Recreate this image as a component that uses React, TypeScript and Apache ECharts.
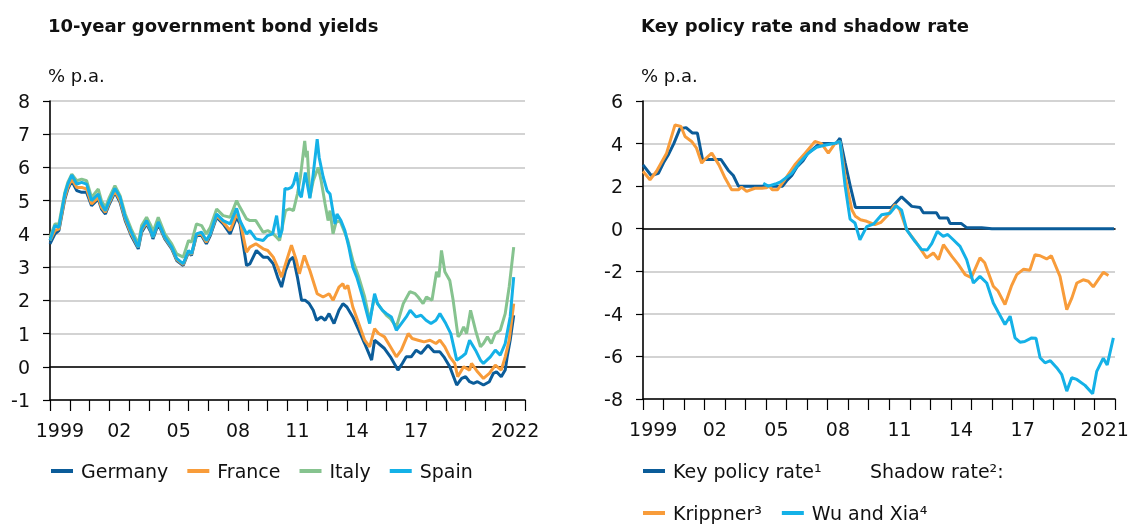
import React, { useEffect, useRef } from "react";
import * as echarts from "echarts";

const FONT = "DejaVu Sans";
const DARK_BLUE = "#0b5c99";
const ORANGE = "#f89c3a";
const GREEN = "#86c38f";
const LIGHT_BLUE = "#14b1e7";

const leftYears = ["1999","2000","2001","2002","2003","2004","2005","2006","2007","2008","2009","2010","2011","2012","2013","2014","2015","2016","2017","2018","2019","2020","2021","2022"];
const leftTickYears = ["1999","2002","2005","2008","2011","2014","2017","2022"];
const leftTickLabels = ["1999","02","05","08","11","14","17","2022"];

const rightYears = ["1999","2000","2001","2002","2003","2004","2005","2006","2007","2008","2009","2010","2011","2012","2013","2014","2015","2016","2017","2018","2019","2020","2021"];
const rightTickYears = ["1999","2002","2005","2008","2011","2014","2017","2021"];
const rightTickLabels = ["1999","02","05","08","11","14","17","2021"];

const germany = [[1999.0,3.7],[1999.25,4.0],[1999.45,4.1],[1999.75,5.05],[1999.9,5.35],[2000.1,5.6],[2000.35,5.3],[2000.6,5.25],[2000.85,5.25],[2001.1,4.85],[2001.44,5.05],[2001.6,4.75],[2001.8,4.6],[2002.0,4.9],[2002.28,5.25],[2002.54,4.95],[2002.8,4.4],[2003.1,3.95],[2003.46,3.55],[2003.63,4.05],[2003.88,4.3],[2004.1,4.05],[2004.2,3.85],[2004.47,4.3],[2004.8,3.85],[2005.15,3.55],[2005.4,3.2],[2005.73,3.05],[2006.0,3.45],[2006.15,3.35],[2006.4,3.95],[2006.66,3.95],[2006.9,3.7],[2007.1,3.95],[2007.42,4.5],[2007.75,4.3],[2008.1,4.0],[2008.43,4.5],[2008.6,4.3],[2008.93,3.05],[2009.1,3.1],[2009.43,3.5],[2009.77,3.3],[2010.0,3.3],[2010.28,3.1],[2010.5,2.7],[2010.7,2.4],[2010.9,2.9],[2011.1,3.2],[2011.29,3.3],[2011.5,2.7],[2011.71,2.0],[2011.9,2.0],[2012.1,1.9],[2012.3,1.7],[2012.47,1.4],[2012.7,1.5],[2012.9,1.4],[2013.1,1.6],[2013.35,1.3],[2013.6,1.7],[2013.8,1.9],[2014.0,1.8],[2014.3,1.5],[2014.6,1.1],[2014.9,0.7],[2015.25,0.2],[2015.4,0.8],[2015.6,0.7],[2015.9,0.55],[2016.2,0.3],[2016.58,-0.1],[2016.8,0.1],[2017.0,0.3],[2017.25,0.3],[2017.5,0.5],[2017.75,0.4],[2018.1,0.65],[2018.4,0.45],[2018.7,0.45],[2018.9,0.3],[2019.2,0.0],[2019.55,-0.55],[2019.8,-0.35],[2020.0,-0.3],[2020.2,-0.45],[2020.4,-0.5],[2020.6,-0.45],[2020.9,-0.55],[2021.2,-0.45],[2021.4,-0.2],[2021.56,-0.15],[2021.8,-0.3],[2022.0,-0.1],[2022.1,0.3],[2022.25,0.8],[2022.43,1.55]];

const france = [[1999.0,3.8],[1999.25,4.1],[1999.45,4.15],[1999.75,5.1],[1999.9,5.4],[2000.1,5.65],[2000.35,5.4],[2000.6,5.4],[2000.85,5.35],[2001.1,4.9],[2001.44,5.1],[2001.6,4.8],[2001.8,4.65],[2002.0,4.95],[2002.28,5.3],[2002.54,5.0],[2002.8,4.45],[2003.1,4.0],[2003.46,3.6],[2003.63,4.1],[2003.88,4.35],[2004.1,4.1],[2004.2,3.9],[2004.47,4.35],[2004.8,3.88],[2005.15,3.58],[2005.4,3.23],[2005.73,3.08],[2006.0,3.48],[2006.15,3.38],[2006.4,3.98],[2006.66,4.0],[2006.9,3.75],[2007.1,4.0],[2007.42,4.55],[2007.75,4.35],[2008.1,4.1],[2008.43,4.6],[2008.6,4.4],[2008.93,3.45],[2009.1,3.6],[2009.4,3.7],[2009.77,3.55],[2010.0,3.5],[2010.28,3.3],[2010.5,3.0],[2010.7,2.7],[2010.85,3.0],[2011.2,3.66],[2011.45,3.2],[2011.6,2.8],[2011.85,3.35],[2012.0,3.1],[2012.13,2.9],[2012.5,2.2],[2012.8,2.1],[2013.1,2.2],[2013.3,2.0],[2013.6,2.4],[2013.8,2.5],[2013.9,2.35],[2014.05,2.45],[2014.3,1.8],[2014.6,1.3],[2014.9,0.8],[2015.15,0.6],[2015.4,1.15],[2015.6,1.0],[2015.9,0.9],[2016.2,0.6],[2016.5,0.3],[2016.75,0.5],[2017.1,1.0],[2017.3,0.85],[2017.6,0.8],[2017.9,0.75],[2018.2,0.8],[2018.5,0.7],[2018.7,0.8],[2018.95,0.6],[2019.2,0.3],[2019.45,0.1],[2019.6,-0.3],[2019.9,0.0],[2020.2,-0.1],[2020.3,0.1],[2020.6,-0.15],[2020.9,-0.35],[2021.2,-0.2],[2021.5,0.05],[2021.8,-0.1],[2022.0,0.3],[2022.2,0.8],[2022.43,1.9]];

const italy = [[1999.0,3.9],[1999.25,4.3],[1999.45,4.3],[1999.75,5.25],[1999.9,5.55],[2000.1,5.8],[2000.35,5.6],[2000.6,5.65],[2000.85,5.6],[2001.1,5.1],[2001.44,5.35],[2001.6,5.0],[2001.8,4.8],[2002.0,5.1],[2002.28,5.45],[2002.54,5.15],[2002.8,4.6],[2003.1,4.15],[2003.46,3.7],[2003.63,4.25],[2003.88,4.5],[2004.1,4.25],[2004.2,4.05],[2004.47,4.5],[2004.8,4.0],[2005.15,3.7],[2005.4,3.4],[2005.73,3.3],[2006.0,3.8],[2006.15,3.75],[2006.4,4.3],[2006.66,4.25],[2006.9,4.0],[2007.1,4.2],[2007.42,4.75],[2007.75,4.55],[2008.1,4.5],[2008.43,5.0],[2008.6,4.8],[2008.93,4.45],[2009.1,4.4],[2009.4,4.4],[2009.77,4.05],[2010.0,4.1],[2010.28,4.0],[2010.45,3.9],[2010.6,3.8],[2010.9,4.7],[2011.1,4.75],[2011.3,4.7],[2011.5,5.2],[2011.65,5.7],[2011.87,6.8],[2011.95,6.3],[2012.0,6.5],[2012.13,5.1],[2012.3,5.6],[2012.55,6.0],[2012.7,5.6],[2012.9,4.9],[2013.05,4.4],[2013.15,4.7],[2013.3,4.0],[2013.45,4.35],[2013.65,4.4],[2013.85,4.1],[2014.05,3.8],[2014.3,3.2],[2014.6,2.7],[2014.9,2.1],[2015.15,1.4],[2015.4,2.1],[2015.55,1.9],[2015.8,1.7],[2016.0,1.55],[2016.2,1.45],[2016.5,1.2],[2016.85,1.9],[2017.18,2.26],[2017.45,2.2],[2017.6,2.1],[2017.85,1.9],[2018.02,2.1],[2018.3,2.0],[2018.53,2.86],[2018.65,2.7],[2018.78,3.5],[2018.95,2.86],[2019.2,2.6],[2019.37,2.0],[2019.62,0.9],[2019.75,1.0],[2019.9,1.2],[2020.05,1.0],[2020.25,1.7],[2020.5,1.1],[2020.75,0.6],[2020.9,0.7],[2021.1,0.9],[2021.3,0.7],[2021.5,1.0],[2021.75,1.1],[2022.0,1.6],[2022.2,2.4],[2022.43,3.6]];

const spain = [[1999.0,3.8],[1999.25,4.25],[1999.45,4.2],[1999.75,5.2],[1999.9,5.5],[2000.1,5.77],[2000.35,5.5],[2000.6,5.55],[2000.85,5.5],[2001.1,5.0],[2001.44,5.2],[2001.6,4.9],[2001.8,4.7],[2002.0,5.0],[2002.28,5.37],[2002.54,5.1],[2002.8,4.5],[2003.1,4.06],[2003.46,3.6],[2003.63,4.15],[2003.88,4.4],[2004.1,4.1],[2004.2,3.9],[2004.47,4.36],[2004.8,3.9],[2005.15,3.6],[2005.4,3.26],[2005.73,3.1],[2006.0,3.5],[2006.15,3.4],[2006.4,4.0],[2006.66,4.05],[2006.9,3.8],[2007.1,4.0],[2007.42,4.6],[2007.75,4.4],[2008.1,4.3],[2008.43,4.77],[2008.6,4.4],[2008.93,4.0],[2009.1,4.1],[2009.4,3.85],[2009.77,3.8],[2010.0,3.95],[2010.25,4.0],[2010.45,4.55],[2010.6,3.9],[2010.72,4.1],[2010.87,5.37],[2011.0,5.35],[2011.2,5.4],[2011.3,5.5],[2011.46,5.85],[2011.6,5.2],[2011.7,5.1],[2011.9,5.85],[2012.0,5.5],[2012.13,5.07],[2012.3,5.8],[2012.5,6.85],[2012.6,6.3],[2012.8,5.72],[2013.0,5.3],[2013.15,5.2],[2013.4,4.3],[2013.5,4.6],[2013.7,4.4],[2013.9,4.1],[2014.1,3.6],[2014.3,3.0],[2014.5,2.7],[2014.8,2.1],[2015.15,1.3],[2015.4,2.2],[2015.55,1.9],[2015.8,1.7],[2016.0,1.6],[2016.25,1.5],[2016.5,1.1],[2016.75,1.3],[2017.0,1.5],[2017.2,1.7],[2017.5,1.5],[2017.75,1.55],[2018.0,1.4],[2018.25,1.3],[2018.5,1.4],[2018.7,1.6],[2019.0,1.3],[2019.25,1.0],[2019.55,0.2],[2019.8,0.3],[2020.0,0.4],[2020.2,0.8],[2020.5,0.5],[2020.75,0.2],[2020.9,0.1],[2021.25,0.3],[2021.5,0.5],[2021.75,0.35],[2022.0,0.7],[2022.25,1.5],[2022.43,2.7]];

const keyPolicyRate = [[1999.0,3.0],[1999.4,2.5],[1999.75,2.6],[2000.0,3.1],[2000.25,3.5],[2000.5,4.0],[2000.8,4.7],[2001.1,4.75],[2001.4,4.5],[2001.65,4.5],[2001.9,3.25],[2002.8,3.25],[2003.15,2.75],[2003.4,2.5],[2003.65,2.0],[2005.8,2.0],[2006.0,2.25],[2006.25,2.5],[2006.5,2.9],[2006.8,3.2],[2007.0,3.5],[2007.3,3.75],[2007.6,4.0],[2008.4,4.0],[2008.6,4.25],[2008.85,3.1],[2009.1,2.0],[2009.35,1.0],[2011.1,1.0],[2011.6,1.5],[2012.1,1.05],[2012.5,1.0],[2012.66,0.75],[2013.3,0.75],[2013.45,0.5],[2013.85,0.5],[2013.96,0.25],[2014.5,0.25],[2014.77,0.05],[2015.5,0.05],[2016.0,0.0],[2021.95,0.0]];

const krippner = [[1999.0,2.7],[1999.34,2.3],[1999.66,2.7],[2000.15,3.55],[2000.56,4.88],[2000.85,4.8],[2001.05,4.33],[2001.37,4.1],[2001.6,3.8],[2001.86,3.08],[2002.0,3.25],[2002.35,3.55],[2002.7,3.0],[2003.0,2.38],[2003.32,1.83],[2003.65,1.83],[2003.8,1.95],[2004.05,1.75],[2004.45,1.9],[2004.8,1.9],[2005.0,1.92],[2005.15,2.0],[2005.3,1.83],[2005.55,1.83],[2005.9,2.3],[2006.4,3.0],[2006.9,3.55],[2007.38,4.1],[2007.7,4.0],[2008.03,3.55],[2008.35,4.0],[2008.6,4.1],[2008.85,2.45],[2009.17,0.9],[2009.35,0.58],[2009.6,0.42],[2009.9,0.35],[2010.3,0.19],[2010.6,0.3],[2010.95,0.66],[2011.28,1.13],[2011.5,0.9],[2011.85,-0.05],[2012.33,-0.67],[2012.82,-1.37],[2013.15,-1.14],[2013.4,-1.45],[2013.64,-0.75],[2014.05,-1.3],[2014.37,-1.69],[2014.7,-2.16],[2015.0,-2.3],[2015.42,-1.37],[2015.65,-1.6],[2016.07,-2.7],[2016.3,-2.93],[2016.64,-3.56],[2016.95,-2.7],[2017.21,-2.16],[2017.55,-1.9],[2017.85,-1.95],[2018.1,-1.22],[2018.35,-1.27],[2018.67,-1.42],[2018.9,-1.27],[2019.32,-2.24],[2019.65,-3.8],[2019.9,-3.25],[2020.14,-2.55],[2020.45,-2.4],[2020.7,-2.47],[2020.94,-2.73],[2021.43,-2.05],[2021.68,-2.2]];

const wuXia = [[2004.86,2.14],[2005.1,2.0],[2005.45,2.1],[2005.7,2.2],[2006.25,2.6],[2006.67,3.15],[2007.06,3.55],[2007.46,3.83],[2007.85,3.92],[2008.3,4.0],[2008.6,4.1],[2008.85,2.0],[2009.09,0.45],[2009.33,0.27],[2009.57,-0.52],[2009.9,0.1],[2010.25,0.23],[2010.63,0.66],[2011.04,0.73],[2011.33,1.08],[2011.6,0.87],[2011.85,-0.05],[2012.25,-0.59],[2012.58,-0.98],[2012.85,-1.0],[2013.07,-0.7],[2013.34,-0.12],[2013.63,-0.36],[2013.85,-0.27],[2014.12,-0.52],[2014.45,-0.83],[2014.77,-1.45],[2015.1,-2.55],[2015.42,-2.24],[2015.75,-2.55],[2016.07,-3.49],[2016.3,-3.9],[2016.64,-4.5],[2016.89,-4.11],[2017.13,-5.13],[2017.37,-5.33],[2017.6,-5.3],[2017.94,-5.13],[2018.15,-5.15],[2018.35,-6.06],[2018.59,-6.3],[2018.85,-6.2],[2019.16,-6.53],[2019.4,-6.84],[2019.65,-7.63],[2019.89,-7.0],[2020.14,-7.08],[2020.54,-7.36],[2020.91,-7.75],[2021.11,-6.7],[2021.43,-6.08],[2021.62,-6.4],[2021.92,-5.13]];

const FS = 19;
const TEXT = "#111";

function labelFormatter(years: string[], labels: string[]) {
  return (v: string) => {
    const i = years.indexOf(v);
    return i >= 0 ? labels[i] : "";
  };
}

function valueXAxis(gridIndex: number, min: number, max: number) {
  return {
    type: "value",
    gridIndex,
    min,
    max,
    position: "bottom",
    axisLine: { show: true, onZero: true, lineStyle: { color: "#000", width: 1.6 } },
    axisTick: { show: false },
    axisLabel: { show: false },
    splitLine: { show: false },
  };
}

function categoryXAxis(gridIndex: number, years: string[], tickYears: string[], tickLabels: string[]) {
  return {
    type: "category",
    gridIndex,
    data: years,
    boundaryGap: true,
    position: "bottom",
    axisLine: { show: true, onZero: false, lineStyle: { color: "#000", width: 1.6 } },
    axisTick: { show: true, interval: 0, alignWithLabel: false, length: 11, lineStyle: { color: "#000", width: 1.2 } },
    axisLabel: {
      interval: 0,
      margin: 20,
      color: TEXT,
      fontFamily: FONT,
      fontSize: FS,
      formatter: labelFormatter(tickYears, tickLabels),
    },
    splitLine: { show: false },
  };
}

function yAxis(gridIndex: number, min: number, max: number, interval: number) {
  return {
    type: "value",
    gridIndex,
    min,
    max,
    interval,
    axisLine: { show: true, lineStyle: { color: "#000", width: 1.6 } },
    axisTick: { show: true, length: 7, lineStyle: { color: "#000", width: 1.2 } },
    axisLabel: { margin: 20, color: TEXT, fontFamily: FONT, fontSize: FS },
    splitLine: { show: true, lineStyle: { color: "#c4c4c4", width: 1.5 } },
  };
}

function lineSeries(name: string, data: number[][], color: string, xAxisIndex: number, yAxisIndex: number) {
  return {
    name,
    type: "line",
    data,
    xAxisIndex,
    yAxisIndex,
    showSymbol: false,
    symbol: "none",
    lineStyle: { color, width: 3 },
    itemStyle: { color },
    emphasis: { disabled: true },
  };
}

const legendBase = {
  orient: "horizontal",
  icon: "rect",
  itemWidth: 22,
  itemHeight: 4,
  itemGap: 19,
  selectedMode: false,
  padding: 0,
  textStyle: { color: TEXT, fontFamily: FONT, fontSize: FS, lineHeight: 22, padding: [0, 0, 0, 3] },
};

export default function App() {
  const ref = useRef<HTMLDivElement>(null);
  useEffect(() => {
    if (!ref.current) return;
    const chart = echarts.init(ref.current, undefined, { renderer: "svg" });
    chart.setOption({
      animation: false,
      textStyle: { fontFamily: FONT },
      grid: [
        { left: 50, top: 101, width: 475, height: 299 },
        { left: 643, top: 101, width: 472, height: 298 },
      ],
      xAxis: [
        valueXAxis(0, 1999, 2023),
        categoryXAxis(0, leftYears, leftTickYears, leftTickLabels),
        valueXAxis(1, 1999, 2022),
        categoryXAxis(1, rightYears, rightTickYears, rightTickLabels),
      ],
      yAxis: [yAxis(0, -1, 8, 1), yAxis(1, -8, 6, 2)],
      legend: [
        { ...legendBase, left: 51, top: 460, data: ["Germany", "France", "Italy", "Spain"] },
        { ...legendBase, left: 643, top: 460, data: ["Key policy rate¹"] },
        { ...legendBase, left: 643, top: 502, itemGap: 20, data: ["Krippner³", "Wu and Xia⁴"] },
      ],
      graphic: [
        { type: "text", left: 48, top: 16, style: { text: "10-year government bond yields", fill: TEXT, font: `bold 18px "${FONT}"` } },
        { type: "text", left: 641, top: 16, style: { text: "Key policy rate and shadow rate", fill: TEXT, font: `bold 18px "${FONT}"` } },
        { type: "text", left: 48, top: 66, style: { text: "% p.a.", fill: TEXT, font: `${FS - 1}px "${FONT}"` } },
        { type: "text", left: 641, top: 66, style: { text: "% p.a.", fill: TEXT, font: `${FS - 1}px "${FONT}"` } },
        { type: "text", left: 870, top: 461, style: { text: "Shadow rate²:", fill: TEXT, font: `${FS}px "${FONT}"` } },
      ],
      series: [
        lineSeries("Germany", germany, DARK_BLUE, 0, 0),
        lineSeries("France", france, ORANGE, 0, 0),
        lineSeries("Italy", italy, GREEN, 0, 0),
        lineSeries("Spain", spain, LIGHT_BLUE, 0, 0),
        lineSeries("Key policy rate¹", keyPolicyRate, DARK_BLUE, 2, 1),
        lineSeries("Krippner³", krippner, ORANGE, 2, 1),
        lineSeries("Wu and Xia⁴", wuXia, LIGHT_BLUE, 2, 1),
      ],
    });
    return () => chart.dispose();
  }, []);
  return <div ref={ref} style={{ position: "fixed", left: 0, top: 0, width: 1134, height: 524 }} />;
}
